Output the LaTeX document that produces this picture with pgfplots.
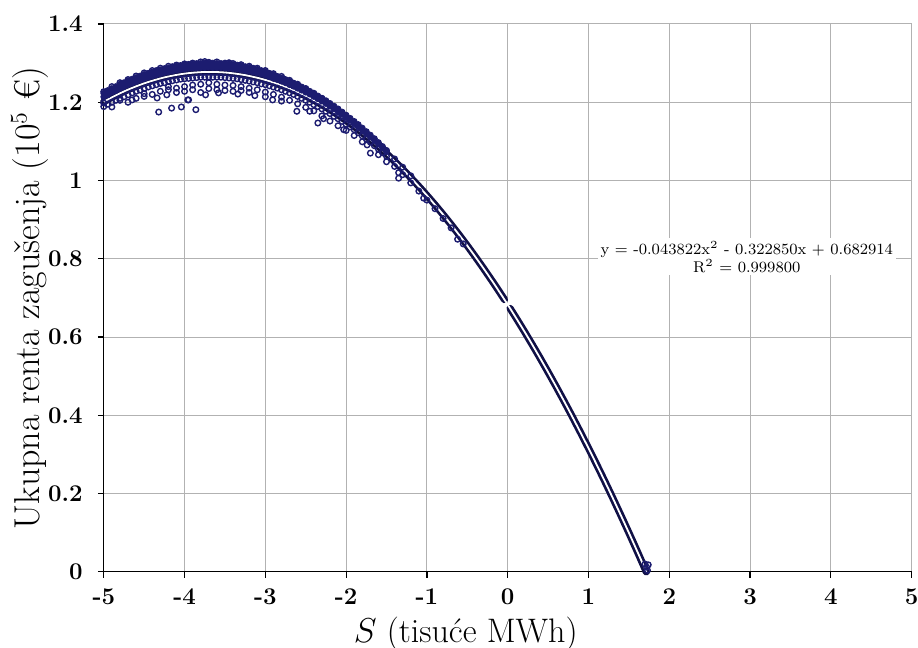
\documentclass[border=0pt]{standalone}
\usepackage{fontspec}
\usepackage{pgfplots}
\pgfplotsset{compat=1.18}
\definecolor{navyA}{RGB}{28,28,112}
\definecolor{navyD}{RGB}{16,16,70}
\definecolor{gridc}{RGB}{178,178,178}
\begin{document}
\begin{tikzpicture}
\begin{axis}[name=ax, scale only axis, width=404pt, height=274pt,
  xmin=-5, xmax=5, ymin=0, ymax=1.4,
  axis lines=left, axis line style={-, black, line width=0.6pt},
  xtick={-5,-4,-3,-2,-1,0,1,2,3,4,5},
  xticklabels={-5,-4,-3,-2,-1,0,1,2,3,4,5},
  ytick={0,0.2,0.4,0.6,0.8,1,1.2,1.4},
  yticklabels={0,0.2,0.4,0.6,0.8,1,1.2,1.4},
  grid=major, major grid style={gridc, line width=0.5pt},
  tick align=outside, major tick length=3pt, tick style={black, line width=0.6pt},
  ticklabel style={font=\fontsize{12}{14}\selectfont\bfseries},
  y tick label style={xshift=-4pt},
  x tick label style={yshift=-2pt},
  xlabel={$S$ (tisuće MWh)}, ylabel={Ukupna renta zagušenja (10$^5$ €)},
  xlabel style={font=\fontsize{17}{19}\selectfont, at={(axis description cs:0.448,-0.113)}, anchor=center},
  ylabel style={font=\fontsize{18}{20}\selectfont, at={(axis description cs:-0.0916,0.5)}, anchor=center},
  clip=false]
% dense part of the cloud (upper side)
\addplot[only marks, mark=*, mark size=1.5pt, navyA, mark options={line width=0.4pt}] coordinates {
(-5.00,1.214)(-5.00,1.223)(-4.95,1.219)(-4.95,1.230)(-4.90,1.226)(-4.90,1.235)
(-4.85,1.230)(-4.85,1.240)(-4.80,1.235)(-4.80,1.246)(-4.75,1.240)(-4.75,1.250)
(-4.70,1.245)(-4.70,1.255)(-4.65,1.249)(-4.65,1.259)(-4.60,1.253)(-4.60,1.263)
(-4.55,1.257)(-4.55,1.267)(-4.50,1.260)(-4.50,1.271)(-4.45,1.264)(-4.45,1.274)
(-4.40,1.267)(-4.40,1.277)(-4.35,1.270)(-4.35,1.281)(-4.30,1.273)(-4.30,1.283)
(-4.25,1.276)(-4.25,1.286)(-4.20,1.278)(-4.20,1.288)(-4.15,1.280)(-4.15,1.291)
(-4.10,1.282)(-4.10,1.292)(-4.05,1.284)(-4.05,1.294)(-4.00,1.285)(-4.00,1.295)
(-3.95,1.287)(-3.95,1.297)(-3.90,1.288)(-3.90,1.298)(-3.85,1.288)(-3.85,1.299)
(-3.80,1.289)(-3.80,1.299)(-3.75,1.289)(-3.75,1.300)(-3.70,1.290)(-3.70,1.300)
(-3.65,1.289)(-3.65,1.300)(-3.60,1.289)(-3.60,1.299)(-3.55,1.289)(-3.55,1.299)
(-3.50,1.288)(-3.50,1.298)(-3.45,1.287)(-3.45,1.297)(-3.40,1.286)(-3.40,1.296)
(-3.35,1.285)(-3.35,1.295)(-3.30,1.283)(-3.30,1.293)(-3.25,1.281)(-3.25,1.291)
(-3.20,1.279)(-3.20,1.289)(-3.15,1.277)(-3.15,1.287)(-3.10,1.275)(-3.10,1.284)
(-3.05,1.272)(-3.05,1.281)(-3.00,1.269)(-3.00,1.278)(-2.95,1.265)(-2.95,1.274)
(-2.90,1.261)(-2.90,1.270)(-2.85,1.258)(-2.85,1.266)(-2.80,1.254)(-2.80,1.262)
(-2.75,1.250)(-2.75,1.258)(-2.70,1.245)(-2.70,1.253)(-2.65,1.241)(-2.65,1.249)
(-2.60,1.236)(-2.60,1.244)(-2.55,1.231)(-2.55,1.239)(-2.50,1.226)(-2.50,1.234)
(-2.45,1.221)(-2.45,1.228)(-2.40,1.215)(-2.40,1.222)(-2.35,1.209)(-2.35,1.216)
(-2.30,1.203)(-2.30,1.210)(-2.25,1.197)(-2.25,1.204)(-2.20,1.190)(-2.20,1.197)
(-2.15,1.183)(-2.15,1.190)(-2.10,1.176)(-2.10,1.183)(-2.05,1.169)(-2.05,1.175)
(-2.00,1.161)(-2.00,1.167)(-1.95,1.154)(-1.95,1.159)(-1.90,1.146)(-1.90,1.151)
(-1.85,1.138)(-1.85,1.143)(-1.80,1.130)(-1.80,1.134)(-1.75,1.121)(-1.75,1.125)
(-1.70,1.112)(-1.70,1.116)(-1.65,1.103)(-1.65,1.107)(-1.60,1.094)(-1.60,1.097)
(-1.55,1.084)(-1.55,1.087)(-1.50,1.074)(-1.50,1.077)
};
% scattered observations (open circles)
\addplot[only marks, mark=o, mark size=1.4pt, navyA, mark options={line width=0.7pt}] coordinates {
(-5.00,1.189)(-4.95,1.195)(-4.90,1.200)(-4.85,1.205)(-4.80,1.210)(-4.75,1.214)(-4.70,1.219)
(-4.65,1.224)(-4.60,1.228)(-4.55,1.231)(-4.50,1.235)(-4.45,1.239)(-4.40,1.242)(-4.35,1.245)
(-4.30,1.248)(-4.25,1.250)(-4.20,1.253)(-4.15,1.255)(-4.10,1.257)(-4.05,1.259)(-4.00,1.260)
(-3.95,1.261)(-3.90,1.262)(-3.85,1.263)(-3.80,1.264)(-3.75,1.264)(-3.70,1.265)(-3.65,1.264)
(-3.60,1.264)(-3.55,1.264)(-3.50,1.263)(-3.45,1.262)(-3.40,1.261)(-3.35,1.260)(-3.30,1.258)
(-3.25,1.256)(-3.20,1.254)(-3.15,1.252)(-3.10,1.250)(-3.05,1.247)(-3.00,1.245)(-2.95,1.242)
(-2.90,1.239)(-2.85,1.236)(-2.80,1.232)(-2.75,1.228)(-2.70,1.224)(-2.65,1.220)(-2.60,1.215)
(-2.55,1.210)(-2.50,1.205)(-2.45,1.200)(-2.40,1.194)(-2.35,1.189)(-2.30,1.183)(-2.25,1.177)
(-2.20,1.171)(-2.15,1.164)(-2.10,1.158)(-2.05,1.151)(-2.00,1.144)(-1.95,1.137)(-1.90,1.130)
(-1.85,1.122)(-1.80,1.114)(-1.75,1.106)(-1.70,1.098)(-1.65,1.089)(-1.60,1.080)(-1.55,1.071)
(-1.50,1.062)
(-5.0,1.227)(-4.9,1.240)(-4.8,1.250)(-4.7,1.258)(-4.6,1.267)(-4.5,1.275)
(-4.4,1.281)(-4.3,1.287)(-4.2,1.292)(-4.1,1.295)(-4.0,1.298)(-3.9,1.300)
(-3.8,1.303)(-3.75,1.304)(-3.7,1.302)(-3.6,1.303)(-3.5,1.300)(-3.45,1.301)
(-3.4,1.299)(-3.3,1.296)(-3.2,1.292)(-3.1,1.287)(-3.0,1.281)(-2.9,1.273)
(-2.8,1.266)(-2.7,1.256)(-2.6,1.246)(-2.5,1.235)(-2.4,1.223)(-2.3,1.210)
(-1.4,1.055)(-1.3,1.034)(-1.2,1.012)
(-5.0,1.198)(-4.9,1.188)(-4.8,1.205)(-4.7,1.200)(-4.65,1.206)(-4.6,1.210)(-4.5,1.215)(-4.5,1.222)
(-4.4,1.220)(-4.34,1.211)(-4.3,1.228)(-4.22,1.219)(-4.2,1.232)(-4.2,1.240)(-4.1,1.236)(-4.1,1.225)
(-4.0,1.240)(-4.0,1.228)(-3.95,1.206)(-3.9,1.244)(-3.9,1.232)
(-3.8,1.246)(-3.8,1.225)(-3.74,1.219)(-3.7,1.250)(-3.7,1.235)
(-3.6,1.246)(-3.6,1.232)(-3.58,1.224)(-3.5,1.244)(-3.5,1.230)
(-3.4,1.243)(-3.4,1.228)(-3.34,1.221)(-3.3,1.240)(-3.3,1.230)
(-3.2,1.236)(-3.2,1.225)(-3.13,1.217)(-3.1,1.232)
(-3.0,1.226)(-3.0,1.214)(-2.91,1.206)(-2.9,1.220)
(-2.8,1.213)(-2.8,1.203)(-2.7,1.205)(-2.61,1.177)
(-2.6,1.196)(-2.5,1.187)(-2.45,1.177)(-2.4,1.178)
(-2.35,1.147)(-2.3,1.165)(-2.28,1.158)(-2.2,1.152)
(-2.1,1.140)(-2.03,1.130)(-2.0,1.128)(-1.9,1.115)
(-1.8,1.099)(-1.74,1.091)(-1.70,1.070)(-1.6,1.066)
(-1.5,1.048)(-1.4,1.036)(-1.35,1.006)(-1.35,1.020)(-1.3,1.015)(-1.2,0.994)
(-1.1,0.973)(-1.04,0.955)(-1.0,0.950)(-0.9,0.928)(-0.8,0.903)(-0.7,0.879)
(-0.62,0.850)(-0.55,0.838)
(-4.32,1.175)(-4.16,1.185)(-4.04,1.188)(-3.86,1.181)(-3.96,1.206)
(1.70,0.020)(1.72,0.012)(1.74,0.018)(1.73,0.004)
};
% dense core of the cloud
\addplot[navyD, line width=3.6pt, line cap=round, line join=round] coordinates {
(-5.0,1.2016)(-4.9,1.2127)(-4.8,1.2229)(-4.7,1.2323)(-4.6,1.2408)(-4.5,1.2483)(-4.4,1.2551)
(-4.3,1.2609)(-4.2,1.2659)(-4.1,1.2700)(-4.0,1.2732)(-3.9,1.2755)(-3.8,1.2770)(-3.7,1.2775)
(-3.6,1.2772)(-3.5,1.2761)(-3.4,1.2740)(-3.3,1.2711)(-3.2,1.2673)(-3.1,1.2626)(-3.0,1.2571)
(-2.9,1.2506)(-2.8,1.2433)(-2.7,1.2352)(-2.6,1.2261)(-2.5,1.2162)(-2.4,1.2053)(-2.3,1.1937)
(-2.2,1.1811)(-2.1,1.1677)(-2.0,1.1533)(-1.9,1.1381)(-1.8,1.1221)(-1.7,1.1050)(-1.6,1.0873)
(-1.5,1.0686)(-1.4,1.0490)(-1.3,1.0286)(-1.2,1.0072)(-1.1,0.9850)(-1.0,0.9619)(-0.9,0.9380)
(-0.8,0.9131)(-0.7,0.8874)(-0.6,0.8608)(-0.5,0.8334)(-0.4,0.8050)(-0.3,0.7758)(-0.2,0.7457)
(-0.1,0.7148)(-0.04,0.6958)
};
\addplot[navyD, line width=3.6pt, line cap=round, line join=round] coordinates {
(0.03,0.6731)(0.1,0.6502)(0.2,0.6166)(0.3,0.5821)(0.4,0.5468)(0.5,0.5105)(0.6,0.4734)
(0.7,0.4354)(0.8,0.3966)(0.9,0.3568)(1.0,0.3162)(1.1,0.2748)(1.2,0.2324)(1.3,0.1891)
(1.4,0.1450)(1.5,0.1000)(1.6,0.0542)(1.7,0.0074)(1.715,0.000)
};
% fitted trend line
\addplot[white, line width=0.9pt, smooth] coordinates {
(-5,1.2016)(-4.75,1.2277)(-4.5,1.2483)(-4.25,1.2635)(-4,1.2732)(-3.75,1.2774)(-3.5,1.2761)
(-3.25,1.2693)(-3,1.2571)(-2.75,1.2394)(-2.5,1.2162)(-2.25,1.1875)(-2,1.1533)(-1.75,1.1137)
(-1.5,1.0686)(-1.25,1.0180)(-1,0.9619)(-0.75,0.9004)(-0.5,0.8334)(-0.25,0.7609)(0,0.6829)
(0.25,0.5995)(0.5,0.5105)(0.75,0.4161)(1,0.3162)(1.25,0.2109)(1.5,0.1000)(1.717,0.0000)
};
\node[fill=white, inner sep=1.5pt, align=center, font=\fontsize{7.8}{9}\selectfont] at (axis cs:2.96,0.805)
  {y = -0.043822x\textsuperscript{2} - 0.322850x + 0.682914\\R\textsuperscript{2} = 0.999800};
\end{axis}
\pgfresetboundingbox
\path ([xshift=-51.9pt,yshift=-37.9pt]ax.south west) rectangle ([xshift=3.2pt,yshift=12pt]ax.north east);
\end{tikzpicture}
\end{document}
